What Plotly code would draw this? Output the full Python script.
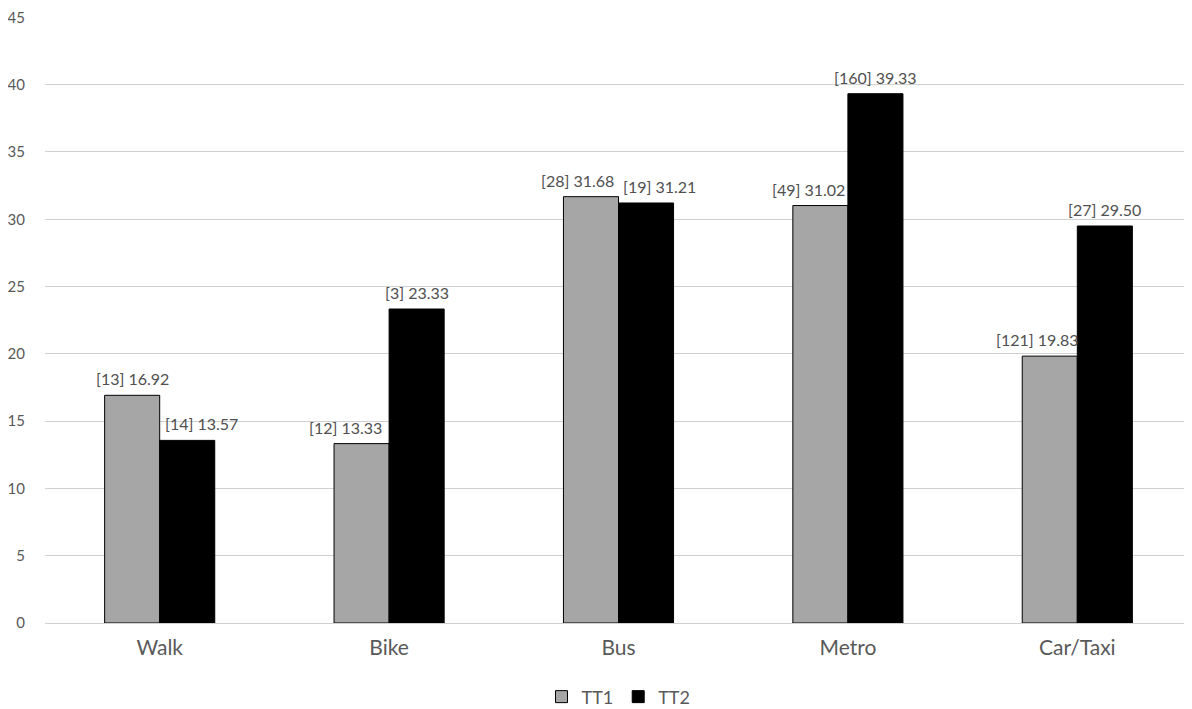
import plotly.graph_objects as go

categories = ["Walk", "Bike", "Bus", "Metro", "Car/Taxi"]
tt1_values = [16.92, 13.33, 31.68, 31.02, 19.83]
tt1_counts = [13, 12, 28, 49, 121]
tt2_values = [13.57, 23.33, 31.21, 39.33, 29.50]
tt2_counts = [14, 3, 19, 160, 27]
y_ticks = [0, 5, 10, 15, 20, 25, 30, 35, 40, 45]

# label horizontal nudges (px), style only
tt1_label_dx = [0, -16, -13, -12, -12]
tt2_label_dx = [14, 0, 13, 0, 0]

FONT = "Lato, 'Open Sans', sans-serif"
BARGAP = 0.52
half = (1 - BARGAP) / 4  # offset of each bar's centre from category centre

def labels(counts, vals):
    return [f"[{c}] {v:.2f}" for c, v in zip(counts, vals)]

fig = go.Figure()
fig.add_trace(go.Bar(
    name="TT1", x=categories, y=tt1_values,
    marker=dict(color="#a6a6a6", line=dict(color="#000000", width=1)),
))
fig.add_trace(go.Bar(
    name="TT2", x=categories, y=tt2_values,
    marker=dict(color="#000000", line=dict(color="#000000", width=1)),
))

annotations = []
for vals, cnts, dxs, sgn in [
        (tt1_values, tt1_counts, tt1_label_dx, -1),
        (tt2_values, tt2_counts, tt2_label_dx, 1)]:
    for i, (txt, v, dx) in enumerate(zip(labels(cnts, vals), vals, dxs)):
        annotations.append(dict(
            x=i + sgn * half, y=v, xref="x", yref="y", text=txt,
            showarrow=False, xanchor="center", yanchor="bottom",
            xshift=dx, yshift=5,
            font=dict(size=16, color="#505050", family=FONT)))

fig.update_layout(
    width=1184, height=701,
    margin=dict(l=37, r=0, t=9, b=86, autoexpand=False),
    paper_bgcolor="white", plot_bgcolor="white",
    barmode="group", bargap=BARGAP, bargroupgap=0,
    font=dict(family=FONT, color="#595959"),
    showlegend=True,
    legend=dict(orientation="h", x=0.5, xanchor="center", y=-0.122, yanchor="middle",
                font=dict(size=18, color="#595959"), traceorder="normal"),
    annotations=annotations,
)
fig.update_xaxes(showgrid=False, showline=True, linecolor="#d0d0d0", linewidth=1,
                 tickfont=dict(size=21, color="#595959"), ticks="", ticklabelstandoff=6,
                 automargin=False)
fig.update_yaxes(range=[0, 45.03], tickvals=y_ticks, showgrid=True, gridcolor="#d0d0d0",
                 gridwidth=1, zeroline=False, showline=False, ticklabeloverflow="allow",
                 tickfont=dict(size=15, color="#595959"), ticks="", ticklabelstandoff=19,
                 automargin=False)

fig.write_html("out.html")
